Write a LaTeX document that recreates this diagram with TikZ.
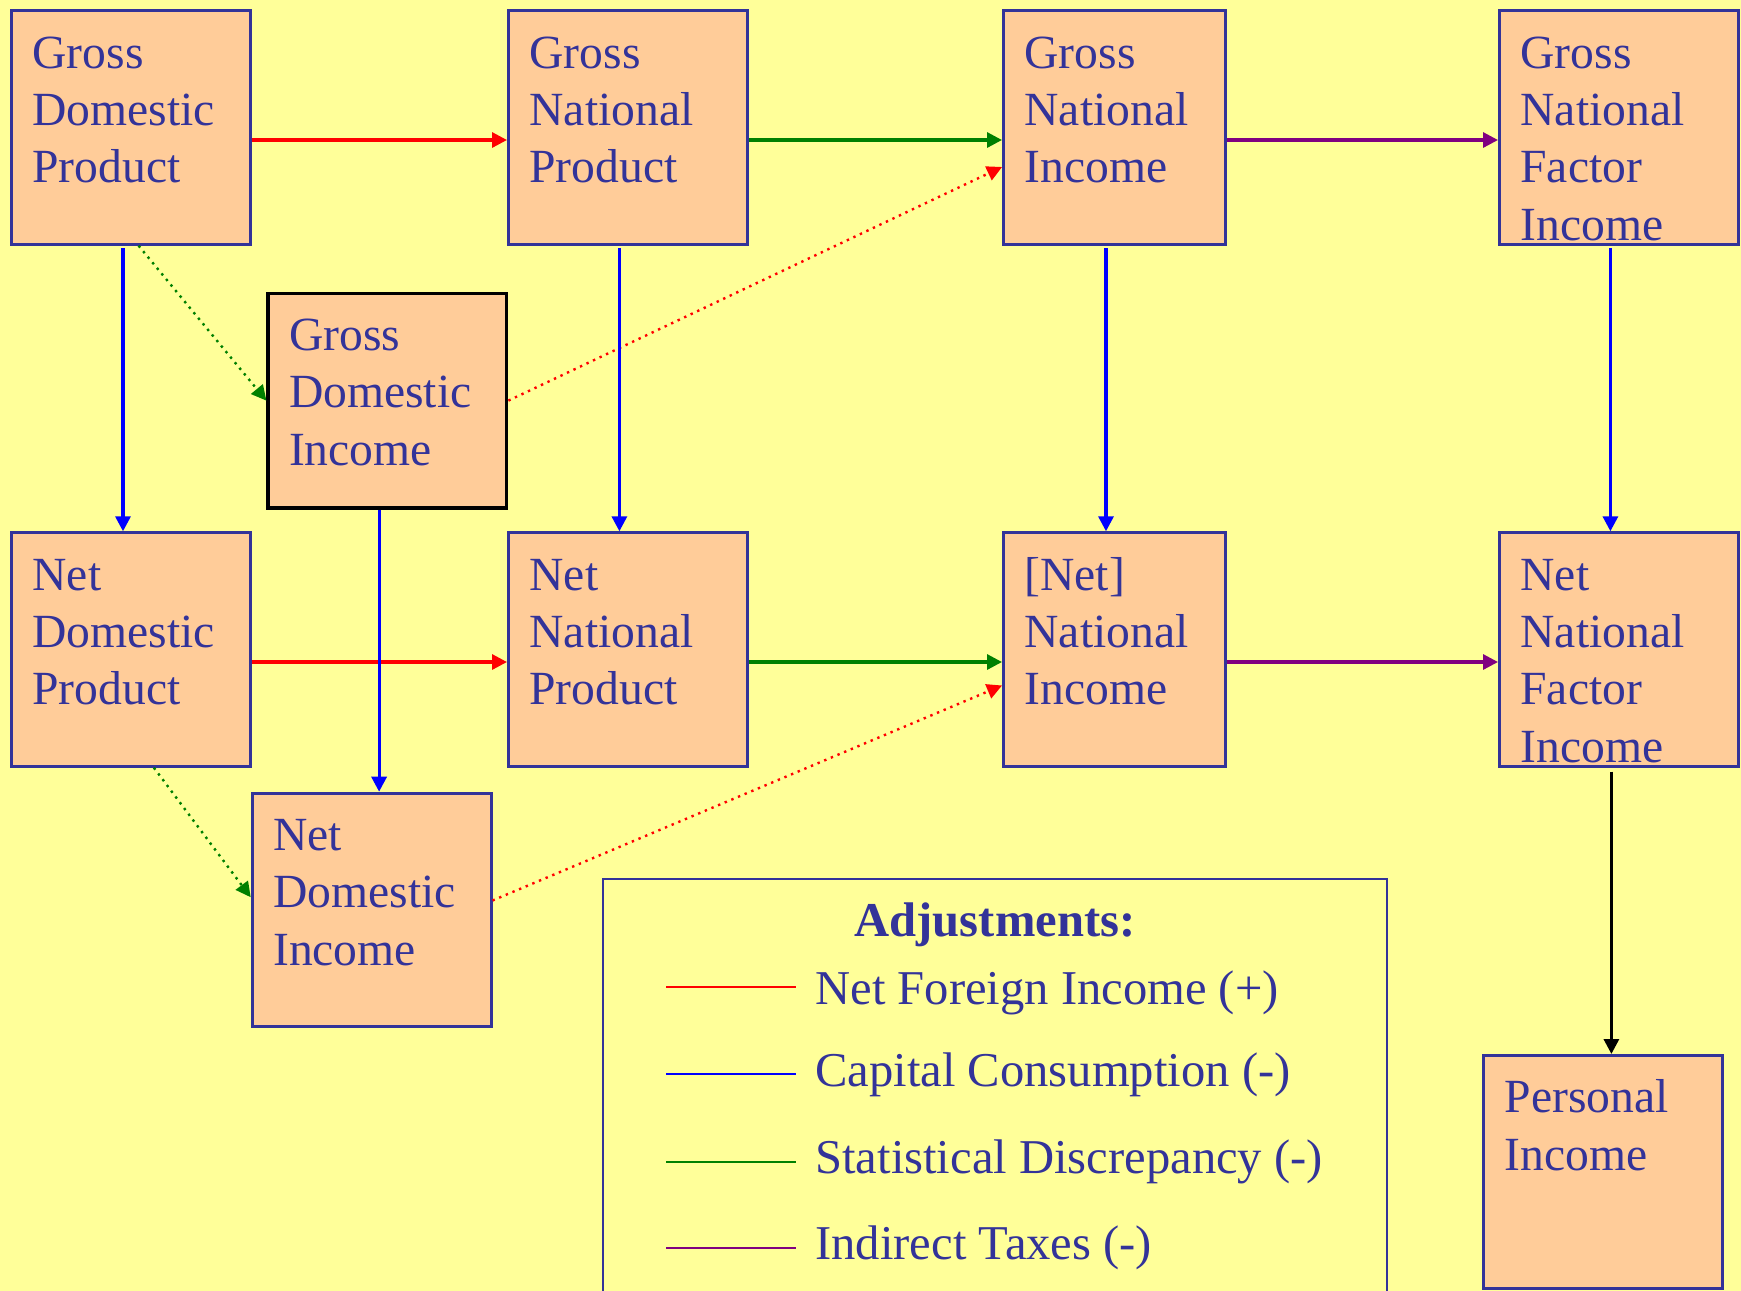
\documentclass[tikz,border=0pt]{standalone}
\usepackage{fontspec}
\setmainfont{Liberation Serif}
\usetikzlibrary{arrows.meta}

\definecolor{bgyellow}{HTML}{FFFF99}
\definecolor{boxfill}{HTML}{FFCC99}
\definecolor{inkblue}{HTML}{333399}
\definecolor{sdgreen}{HTML}{008000}
\definecolor{itpurple}{HTML}{800080}

\tikzset{
  account/.style={draw=inkblue, fill=boxfill, line width=1.5pt, text=inkblue,
    anchor=north west, align=left, inner xsep=10.5pt, inner ysep=0pt,
    text width=98.4pt, text height=28.6pt, text depth=88.1pt,
    font=\fontsize{23.8}{28.7}\selectfont},
  flow/.style={->, line width=1.6pt},
  adjust/.style={->, line width=1.2pt, dash pattern=on 1.2pt off 2.4pt},
  keyline/.style={line width=0.9pt},
  keytext/.style={anchor=base west, text=inkblue, inner sep=0pt,
    font=\fontsize{24.3}{29}\selectfont},
}

\begin{document}
\begin{tikzpicture}[x=0.5pt, y=-0.5pt, node distance=261pt,
    >={Triangle[length=7.5pt,width=7.5pt]}]
  \useasboundingbox (0,0) rectangle (1741,1291);
  \fill[bgyellow] (0,0) rectangle (1741,1291);

  % gross aggregates
  \node[account] (gdp)  at (10,9.3)     {Gross\\Domestic\\Product};
  \node[account] (gnp)  at (507,9.3)    {Gross\\National\\Product};
  \node[account, text width=90pt] (gni) at (1002,9.3) {Gross\\National\\Income};
  \node[account] (gnfi) at (1498,9.3)   {Gross\\National\\Factor\\Income};
  \node[account, draw=black, line width=1.6pt, text depth=78.7pt] (gdi) at (266.4,291.7) {Gross\\Domestic\\Income};

  % net aggregates
  \node[account, below of=gdp]  (ndp)  {Net\\Domestic\\Product};
  \node[account, below of=gnp]  (nnp)  {Net\\National\\Product};
  \node[account, text width=90pt, below of=gni] (nni) {[Net]\\National\\Income};
  \node[account, below of=gnfi] (nnfi) {Net\\National\\Factor\\Income};
  \node[account] (ndi) at (250.7,791.7) {Net\\Domestic\\Income};
  \node[account] (pi)  at (1482.3,1054) {Personal\\Income};

  % horizontal adjustments
  \draw[flow, red]      ([yshift=-6.25pt]gdp.east)  -- ([yshift=-6.25pt]gnp.west);
  \draw[flow, sdgreen]  ([yshift=-6.25pt]gnp.east)  -- ([yshift=-6.25pt]gni.west);
  \draw[flow, itpurple] ([yshift=-6.25pt]gni.east)  -- ([yshift=-6.25pt]gnfi.west);
  \draw[flow, red]      ([yshift=-6.25pt]ndp.east)  -- ([yshift=-6.25pt]nnp.west);
  \draw[flow, sdgreen]  ([yshift=-6.25pt]nnp.east)  -- ([yshift=-6.25pt]nni.west);
  \draw[flow, itpurple] ([yshift=-6.25pt]nni.east)  -- ([yshift=-6.25pt]nnfi.west);

  % domestic income side
  \draw[adjust, sdgreen] ([xshift=3.85pt]gdp.south) -- (gdi.west);
  \draw[adjust, red]     (gdi.east) -- ([yshift=-19.75pt]gni.west);
  \draw[adjust, sdgreen] ([xshift=11.5pt]ndp.south) -- ([yshift=6.35pt]ndi.west);
  \draw[adjust, red]     ([yshift=4.7pt]ndi.east) -- ([yshift=-18pt]nni.west);

  % capital consumption
  \draw[flow, blue, shorten <=1.3pt] ([xshift=-3.95pt]gdp.south)  -- ([xshift=-3.95pt]ndp.north);
  \draw[flow, blue, shorten <=1.3pt] ([xshift=-4.25pt]gnp.south)  -- ([xshift=-4.25pt]nnp.north);
  \draw[flow, blue, shorten <=1.3pt] ([xshift=-4.25pt]gni.south)  -- ([xshift=-4.25pt]nni.north);
  \draw[flow, blue, shorten <=1.3pt] ([xshift=-4.25pt]gnfi.south) -- ([xshift=-4.25pt]nnfi.north);
  \draw[flow, blue] ([xshift=-4.15pt]gdi.south) -- ([xshift=-4.15pt]gdi.south |- ndi.north);
  \draw[flow, black, shorten <=2pt] ([xshift=-3.75pt]nnfi.south) -- ([xshift=-3.75pt]nnfi.south |- pi.north);

  % legend
  \draw[inkblue, line width=0.85pt] (603,879) rectangle (1387,1330);
  \node[keytext, anchor=base, font=\fontsize{24.3}{29}\selectfont\bfseries] (adj) at (995,936) {Adjustments:};
  \draw[keyline, red]      (666,987.3)  -- (796,987.3);
  \draw[keyline, blue]     (666,1074.3) -- (796,1074.3);
  \draw[keyline, sdgreen]  (666,1161.7) -- (796,1161.7);
  \draw[keyline, itpurple] (666,1247.7) -- (796,1247.7);
  \node[keytext] (nfi) at (815,1004.3) {Net Foreign Income (+)};
  \node[keytext] (cc)  at (815,1086.7) {Capital Consumption (-)};
  \node[keytext] (sd)  at (815,1173.3) {Statistical Discrepancy (-)};
  \node[keytext] (it)  at (815,1259)   {Indirect Taxes (-)};
\end{tikzpicture}
\end{document}
